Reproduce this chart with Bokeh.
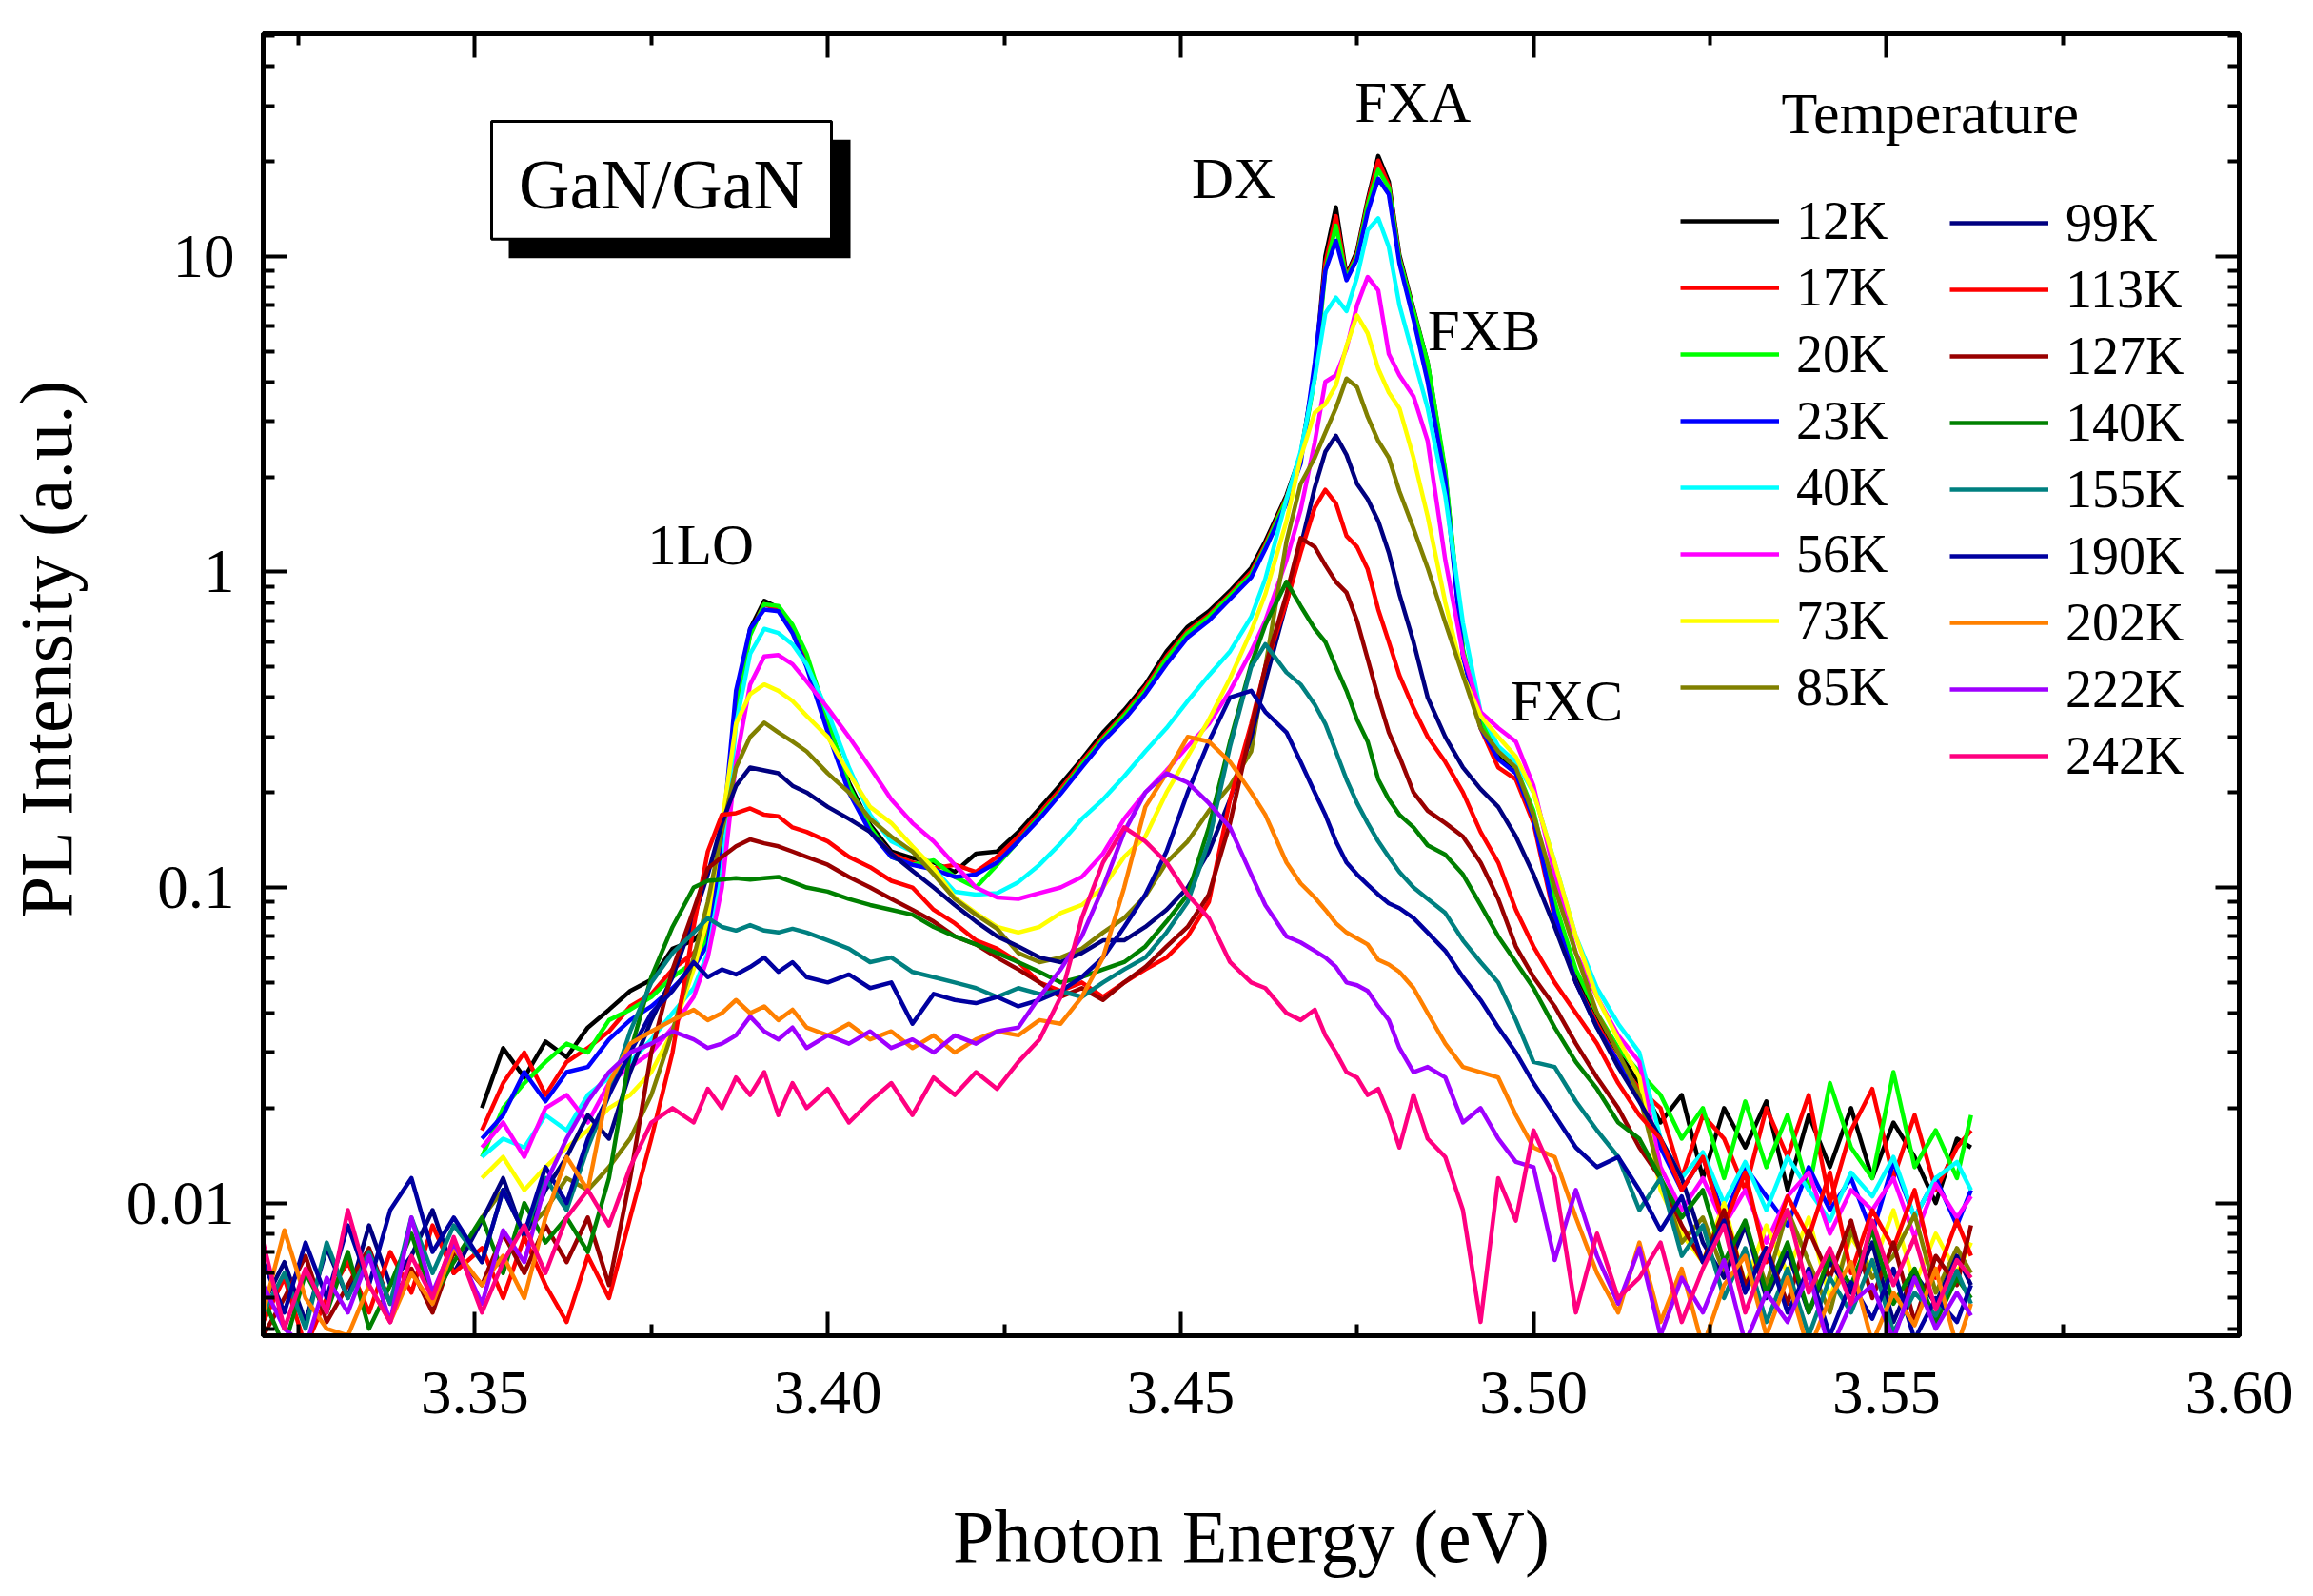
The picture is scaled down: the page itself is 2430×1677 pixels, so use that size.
import numpy as np
from bokeh.plotting import figure
from bokeh.models import (ColumnDataSource, FixedTicker, LinearAxis, LogAxis, Legend,
                          LegendItem, Label, BoxAnnotation, PrintfTickFormatter)
from bokeh.embed import file_html
from bokeh.resources import INLINE

N = None

# ---------------- data ----------------
energy = [
    3.320, 3.323, 3.326, 3.329, 3.332, 3.335, 3.338, 3.341, 3.344, 3.347,
    3.351, 3.354, 3.357, 3.360, 3.363, 3.366, 3.369, 3.372, 3.375, 3.378,
    3.381, 3.383, 3.385, 3.387, 3.389, 3.391, 3.393, 3.395, 3.397, 3.400,
    3.403, 3.406, 3.409, 3.412, 3.415, 3.418, 3.421, 3.424, 3.427, 3.430,
    3.433, 3.436, 3.439, 3.442, 3.445, 3.448, 3.451, 3.454, 3.457, 3.460,
    3.462, 3.465, 3.467, 3.469, 3.4705, 3.472, 3.4735, 3.475, 3.4765, 3.478,
    3.4795, 3.481, 3.483, 3.485, 3.4875, 3.490, 3.4925, 3.495, 3.4975, 3.500,
    3.503, 3.506, 3.509, 3.512, 3.515, 3.518, 3.521, 3.524, 3.527, 3.530,
    3.533, 3.536, 3.539, 3.542, 3.545, 3.548, 3.551, 3.554, 3.557, 3.560, 3.562,
]

t12 = [N, N, N, N, N, N, N, N, N, N,
       0.020, 0.031, 0.025, 0.0325, 0.029, 0.036, 0.041, 0.047, 0.051, 0.064,
       0.068, 0.076, 0.125, 0.39, 0.66, 0.81, 0.77, 0.65, 0.53, 0.33,
       0.215, 0.158, 0.13, 0.124, 0.12, 0.112, 0.128, 0.13, 0.15, 0.178,
       0.212, 0.255, 0.31, 0.365, 0.44, 0.56, 0.67, 0.75, 0.87, 1.03,
       1.25, 1.75, 2.35, 4.3, 10.0, 14.3, 8.7, 10.4, 15.1, 20.8,
       17.2, 10.1, 6.8, 4.6, 2.05, 0.56, 0.33, 0.26, 0.235, 0.17,
       0.085, 0.052, 0.038, 0.03, 0.024, 0.018, 0.022, 0.012, 0.02, 0.015,
       0.021, 0.011, 0.019, 0.013, 0.02, 0.012, 0.018, 0.014, 0.01, 0.016, 0.015]

t17 = [N, N, N, N, N, N, N, N, N, N,
       0.017, 0.024, 0.030, 0.022, 0.028, 0.031, 0.035, 0.042, 0.046, 0.055,
       0.062, 0.072, 0.12, 0.37, 0.64, 0.79, 0.76, 0.65, 0.52, 0.32,
       0.205, 0.152, 0.128, 0.12, 0.115, 0.118, 0.112, 0.125, 0.145, 0.172,
       0.205, 0.25, 0.3, 0.355, 0.43, 0.54, 0.65, 0.73, 0.85, 1.0,
       1.22, 1.72, 2.3, 4.2, 9.5, 13.4, 8.6, 10.2, 14.8, 20.1,
       16.8, 9.9, 6.7, 4.5, 2.0, 0.55, 0.32, 0.24, 0.22, 0.16,
       0.08, 0.05, 0.037, 0.028, 0.023, 0.02, 0.012, 0.019, 0.016, 0.011,
       0.02, 0.014, 0.022, 0.01, 0.017, 0.023, 0.012, 0.019, 0.011, 0.015, 0.017]

t20 = [N, N, N, N, N, N, N, N, N, N,
       0.014, 0.020, 0.024, 0.028, 0.032, 0.030, 0.038, 0.041, 0.045, 0.052,
       0.058, 0.07, 0.115, 0.36, 0.63, 0.79, 0.78, 0.68, 0.55, 0.34,
       0.21, 0.155, 0.125, 0.118, 0.122, 0.108, 0.1, 0.118, 0.14, 0.168,
       0.2, 0.245, 0.295, 0.35, 0.42, 0.53, 0.64, 0.72, 0.84, 0.98,
       1.2, 1.7, 2.3, 4.1, 9.0, 12.5, 8.5, 10.0, 14.5, 18.8,
       16.5, 9.8, 6.7, 4.6, 2.1, 0.57, 0.34, 0.27, 0.24, 0.175,
       0.09, 0.055, 0.04, 0.031, 0.026, 0.022, 0.016, 0.02, 0.012, 0.021,
       0.013, 0.019, 0.011, 0.024, 0.015, 0.012, 0.026, 0.013, 0.017, 0.012, 0.019]

t23 = [N, N, N, N, N, N, N, N, N, N,
       0.016, 0.019, 0.026, 0.021, 0.026, 0.027, 0.033, 0.038, 0.042, 0.048,
       0.056, 0.066, 0.14, 0.42, 0.66, 0.76, 0.75, 0.64, 0.5, 0.31,
       0.2, 0.15, 0.125, 0.118, 0.114, 0.108, 0.11, 0.12, 0.14, 0.165,
       0.198, 0.24, 0.29, 0.34, 0.41, 0.51, 0.62, 0.7, 0.82, 0.96,
       1.18, 1.65, 2.2, 4.6, 9.0, 11.2, 8.4, 9.8, 13.8, 17.6,
       15.7, 9.5, 6.3, 4.0, 1.95, 0.54, 0.32, 0.255, 0.23, 0.165,
       0.082, 0.05, 0.036, 0.028, 0.022, 0.015, 0.011, 0.014, 0.009, 0.013,
       0.0105, 0.0085, 0.013, 0.0095, 0.012, 0.008, 0.0135, 0.009, 0.012, 0.0085, 0.011]

t40 = [N, N, N, N, N, N, N, N, N, N,
       0.014, 0.016, 0.015, 0.019, 0.017, 0.022, 0.025, 0.028, 0.033, 0.040,
       0.048, 0.062, 0.11, 0.33, 0.55, 0.66, 0.64, 0.59, 0.51, 0.36,
       0.24, 0.17, 0.14, 0.13, 0.115, 0.097, 0.095, 0.096, 0.104, 0.118,
       0.138, 0.165, 0.19, 0.225, 0.27, 0.32, 0.39, 0.47, 0.56, 0.72,
       0.95, 1.7, 2.4, 4.1, 6.6, 7.4, 6.7, 8.6, 12.1, 13.2,
       10.7, 7.0, 4.8, 3.3, 1.74, 0.69, 0.36, 0.28, 0.25, 0.2,
       0.12, 0.07, 0.048, 0.037, 0.03, 0.016, 0.012, 0.0145, 0.01, 0.0135,
       0.0095, 0.014, 0.011, 0.0088, 0.0125, 0.0105, 0.014, 0.009, 0.012, 0.0135, 0.011]

t56 = [N, N, N, N, N, N, N, N, N, N,
       0.015, 0.018, 0.014, 0.020, 0.022, 0.018, 0.024, 0.027, 0.030, 0.036,
       0.045, 0.06, 0.1, 0.25, 0.44, 0.54, 0.545, 0.51, 0.45, 0.37,
       0.3, 0.24, 0.19, 0.16, 0.14, 0.118, 0.1, 0.093, 0.092, 0.096,
       0.1, 0.108, 0.128, 0.165, 0.2, 0.235, 0.28, 0.33, 0.42, 0.56,
       0.7, 1.09, 1.57, 2.57, 4.0, 4.2, 5.1, 7.0, 8.6, 7.8,
       4.9, 4.2, 3.6, 2.6, 1.09, 0.55, 0.36, 0.32, 0.29, 0.21,
       0.11, 0.062, 0.045, 0.034, 0.028, 0.013, 0.0095, 0.012, 0.0085, 0.011,
       0.0075, 0.0105, 0.0125, 0.008, 0.011, 0.0095, 0.012, 0.0078, 0.0115, 0.009, 0.0105]

t73 = [N, N, N, N, N, N, N, N, N, N,
       0.012, 0.014, 0.011, 0.013, 0.015, 0.017, 0.020, 0.022, 0.026, 0.035,
       0.055, 0.08, 0.16, 0.33, 0.41, 0.44, 0.42, 0.39, 0.35, 0.3,
       0.23, 0.18, 0.16, 0.135, 0.115, 0.093, 0.083, 0.075, 0.072, 0.075,
       0.083, 0.088, 0.1, 0.125, 0.145, 0.2, 0.26, 0.34, 0.46, 0.65,
       0.85, 1.45, 2.3, 3.2, 3.4, 3.9, 5.2, 6.5, 5.7, 4.4,
       3.7, 3.3, 2.3, 1.5, 0.8, 0.47, 0.35, 0.3, 0.26, 0.2,
       0.12, 0.07, 0.045, 0.033, 0.025, 0.011, 0.008, 0.0065, 0.01, 0.0055,
       0.0085, 0.006, 0.009, 0.005, 0.0078, 0.0062, 0.0095, 0.0055, 0.008, 0.006, 0.0075]

t85 = [N, N, N, N, N, N, N, N, N, N,
       0.009, 0.011, 0.008, 0.0095, 0.012, 0.011, 0.013, 0.016, 0.022, 0.035,
       0.06, 0.09, 0.15, 0.24, 0.3, 0.333, 0.31, 0.29, 0.27, 0.23,
       0.2, 0.165, 0.145, 0.13, 0.11, 0.092, 0.082, 0.074, 0.062, 0.058,
       0.06, 0.064, 0.072, 0.08, 0.094, 0.12, 0.14, 0.175, 0.21, 0.27,
       0.5, 1.25, 1.9, 2.3, 2.76, 3.3, 4.1, 3.85, 3.1, 2.6,
       2.3, 1.8, 1.37, 1.03, 0.69, 0.47, 0.32, 0.27, 0.24, 0.17,
       0.1, 0.062, 0.04, 0.03, 0.022, 0.012, 0.0075, 0.009, 0.006, 0.0085,
       0.0055, 0.0095, 0.0065, 0.0045, 0.0082, 0.0058, 0.0068, 0.0092, 0.0052, 0.0072, 0.006]

t99 = [0.0048, 0.0065, 0.0042, 0.0072, 0.005, 0.0085, 0.0055, 0.0068, 0.0095, 0.006,
       0.0088, 0.012, 0.0078, 0.011, 0.014, 0.019, 0.016, 0.026, 0.038, 0.052,
       0.08, 0.11, 0.16, 0.21, 0.24, 0.235, 0.23, 0.21, 0.2, 0.18,
       0.165, 0.15, 0.128, 0.113, 0.1, 0.088, 0.078, 0.07, 0.065, 0.06,
       0.058, 0.062, 0.068, 0.068, 0.075, 0.085, 0.1, 0.13, 0.19, 0.3,
       0.45, 0.8, 1.2, 1.85, 2.4, 2.7, 2.35, 1.9, 1.7, 1.45,
       1.15, 0.85, 0.6, 0.4, 0.3, 0.24, 0.205, 0.18, 0.145, 0.11,
       0.075, 0.05, 0.036, 0.027, 0.021, 0.016, 0.012, 0.0075, 0.0058, 0.0085,
       0.005, 0.007, 0.0045, 0.0065, 0.0052, 0.0075, 0.0042, 0.006, 0.0048, 0.0068, 0.0055]

t113 = [0.0042, 0.0058, 0.0035, 0.005, 0.0065, 0.0045, 0.007, 0.0052, 0.0085, 0.006,
        0.0072, 0.005, 0.0078, 0.0055, 0.0042, 0.0068, 0.005, 0.009, 0.016, 0.03,
        0.075, 0.13, 0.17, 0.172, 0.178, 0.17, 0.168, 0.155, 0.15, 0.14,
        0.125, 0.116, 0.105, 0.1, 0.085, 0.077, 0.068, 0.064, 0.058, 0.05,
        0.047, 0.05, 0.045, 0.05, 0.055, 0.06, 0.07, 0.09, 0.19, 0.33,
        0.5, 0.8, 1.15, 1.6, 1.82, 1.65, 1.3, 1.2, 1.02, 0.76,
        0.6, 0.47, 0.37, 0.3, 0.25, 0.2, 0.15, 0.12, 0.085, 0.065,
        0.05, 0.04, 0.032, 0.024, 0.019, 0.016, 0.011, 0.014, 0.0085, 0.0125,
        0.0065, 0.0105, 0.0078, 0.0125, 0.006, 0.0095, 0.0072, 0.011, 0.0058, 0.0088, 0.0068]

t127 = [0.0038, 0.005, 0.0068, 0.0042, 0.0055, 0.0072, 0.0048, 0.0062, 0.0045, 0.007,
        0.0055, 0.008, 0.006, 0.0085, 0.0065, 0.009, 0.0055, 0.012, 0.03, 0.055,
        0.085, 0.115, 0.125, 0.135, 0.142, 0.138, 0.135, 0.13, 0.125, 0.118,
        0.108, 0.1, 0.092, 0.085, 0.078, 0.07, 0.066, 0.06, 0.055, 0.05,
        0.045, 0.048, 0.044, 0.05, 0.056, 0.065, 0.075, 0.095, 0.16, 0.32,
        0.5, 0.85, 1.28, 1.2, 1.05, 0.93, 0.86, 0.7, 0.53, 0.4,
        0.31, 0.26, 0.2, 0.175, 0.16, 0.145, 0.12, 0.092, 0.065, 0.052,
        0.042, 0.032, 0.025, 0.02, 0.015, 0.012, 0.0085, 0.0065, 0.0095, 0.0055,
        0.0072, 0.0048, 0.0082, 0.0058, 0.0088, 0.005, 0.0075, 0.0042, 0.0068, 0.0055, 0.0085]

t140 = [0.005, 0.0035, 0.006, 0.0045, 0.007, 0.004, 0.0055, 0.008, 0.005, 0.0065,
        0.009, 0.006, 0.01, 0.0075, 0.009, 0.007, 0.012, 0.03, 0.052, 0.075,
        0.1, 0.105, 0.106, 0.107, 0.106, 0.107, 0.108, 0.104, 0.1, 0.097,
        0.092, 0.088, 0.085, 0.082, 0.075, 0.07, 0.066, 0.062, 0.058, 0.054,
        0.05, 0.052, 0.055, 0.058, 0.065, 0.078, 0.095, 0.155, 0.29, 0.51,
        0.68, 0.93, 0.78, 0.66, 0.6, 0.5, 0.42, 0.34, 0.29, 0.22,
        0.19, 0.17, 0.155, 0.136, 0.127, 0.11, 0.088, 0.07, 0.058, 0.048,
        0.036, 0.028, 0.023, 0.018, 0.016, 0.012, 0.009, 0.011, 0.0065, 0.0088,
        0.0052, 0.0075, 0.0045, 0.0068, 0.0055, 0.0082, 0.0048, 0.0062, 0.0042, 0.0058, 0.005]

t155 = [0.0045, 0.006, 0.004, 0.0075, 0.005, 0.007, 0.0048, 0.009, 0.006, 0.0085,
        0.0065, 0.011, 0.008, 0.012, 0.0095, 0.015, 0.022, 0.035, 0.05, 0.062,
        0.072, 0.08, 0.075, 0.073, 0.076, 0.073, 0.072, 0.074, 0.072, 0.068,
        0.064, 0.058, 0.06, 0.054, 0.052, 0.05, 0.048, 0.045, 0.048, 0.046,
        0.047, 0.045, 0.05, 0.055, 0.06, 0.072, 0.09, 0.14, 0.28, 0.5,
        0.59, 0.48, 0.44, 0.38, 0.33, 0.27, 0.22, 0.185, 0.16, 0.14,
        0.125, 0.112, 0.1, 0.092, 0.083, 0.068, 0.058, 0.05, 0.038, 0.028,
        0.027, 0.021, 0.017, 0.014, 0.0095, 0.012, 0.0068, 0.0085, 0.005, 0.0072,
        0.0042, 0.0062, 0.0038, 0.0058, 0.0045, 0.0066, 0.0039, 0.0052, 0.0044, 0.0061, 0.0048]

t190 = [0.0065, 0.0045, 0.0075, 0.005, 0.0085, 0.0055, 0.0095, 0.012, 0.007, 0.009,
        0.0065, 0.011, 0.008, 0.013, 0.01, 0.016, 0.022, 0.03, 0.04, 0.047,
        0.058, 0.052, 0.055, 0.053, 0.056, 0.06, 0.054, 0.058, 0.052, 0.05,
        0.053, 0.048, 0.05, 0.037, 0.046, 0.044, 0.043, 0.045, 0.042, 0.044,
        0.047, 0.052, 0.06, 0.075, 0.095, 0.13, 0.2, 0.29, 0.4, 0.42,
        0.36, 0.31, 0.25, 0.2, 0.17, 0.14, 0.12, 0.11, 0.102, 0.095,
        0.089, 0.086, 0.08, 0.072, 0.063, 0.052, 0.044, 0.036, 0.03, 0.024,
        0.019, 0.015, 0.013, 0.014, 0.011, 0.0082, 0.0105, 0.0065, 0.0088, 0.0052,
        0.0072, 0.0045, 0.0062, 0.0038, 0.0056, 0.0043, 0.0062, 0.0037, 0.005, 0.0042, 0.0055]

t202 = [0.0045, 0.0082, 0.005, 0.004, 0.0038, 0.0055, 0.0042, 0.006, 0.0048, 0.0072,
        0.0055, 0.0068, 0.005, 0.009, 0.014, 0.011, 0.024, 0.032, 0.035, 0.038,
        0.041, 0.038, 0.04, 0.044, 0.04, 0.042, 0.038, 0.041, 0.036, 0.034,
        0.037, 0.033, 0.035, 0.031, 0.034, 0.03, 0.033, 0.035, 0.034, 0.038,
        0.037, 0.045, 0.06, 0.1, 0.18, 0.23, 0.3, 0.29, 0.25, 0.2,
        0.17, 0.12, 0.103, 0.093, 0.085, 0.077, 0.072, 0.069, 0.066, 0.059,
        0.057, 0.054, 0.048, 0.04, 0.032, 0.027, 0.026, 0.025, 0.019, 0.015,
        0.014, 0.009, 0.006, 0.0045, 0.0075, 0.0042, 0.0062, 0.0035, 0.0055, 0.0068,
        0.0038, 0.0058, 0.0034, 0.005, 0.0065, 0.0036, 0.0052, 0.0041, 0.0062, 0.0035, 0.0048]

t222 = [0.0055, 0.004, 0.0035, 0.0058, 0.0045, 0.0068, 0.0042, 0.009, 0.0052, 0.0075,
        0.0048, 0.0082, 0.0065, 0.0115, 0.016, 0.021, 0.026, 0.03, 0.032, 0.035,
        0.033, 0.031, 0.032, 0.034, 0.039, 0.035, 0.033, 0.036, 0.031, 0.034,
        0.032, 0.035, 0.031, 0.033, 0.03, 0.034, 0.032, 0.035, 0.036, 0.045,
        0.055, 0.07, 0.1, 0.15, 0.2, 0.23, 0.215, 0.185, 0.155, 0.11,
        0.088, 0.07, 0.067, 0.063, 0.06, 0.056, 0.05, 0.049, 0.047, 0.042,
        0.038, 0.031, 0.026, 0.027, 0.025, 0.018, 0.02, 0.016, 0.0135, 0.013,
        0.0066, 0.011, 0.0068, 0.0048, 0.0072, 0.0038, 0.0058, 0.0045, 0.0066, 0.0036,
        0.0052, 0.0042, 0.006, 0.0034, 0.0048, 0.0055, 0.0037, 0.0058, 0.004, 0.0052, 0.0044]

t242 = [0.0075, 0.004, 0.0062, 0.0045, 0.0095, 0.0055, 0.0042, 0.0068, 0.005, 0.0078,
        0.0045, 0.0065, 0.0085, 0.006, 0.009, 0.011, 0.0085, 0.013, 0.018, 0.02,
        0.018, 0.023, 0.02, 0.025, 0.022, 0.026, 0.019, 0.024, 0.02, 0.023,
        0.018, 0.021, 0.024, 0.019, 0.025, 0.022, 0.026, 0.023, 0.028, 0.033,
        0.045, 0.08, 0.12, 0.155, 0.14, 0.12, 0.095, 0.08, 0.058, 0.05,
        0.048, 0.04, 0.038, 0.041, 0.034, 0.03, 0.026, 0.025, 0.022, 0.023,
        0.019, 0.015, 0.022, 0.016, 0.014, 0.0095, 0.0042, 0.012, 0.0088, 0.017,
        0.012, 0.0045, 0.008, 0.005, 0.0058, 0.0075, 0.0042, 0.0062, 0.0085, 0.0045,
        0.0068, 0.0095, 0.0052, 0.0072, 0.0048, 0.0088, 0.0055, 0.0078, 0.0046, 0.0066, 0.0058]

temperatures = ["12K", "17K", "20K", "23K", "40K", "56K", "73K", "85K",
                "99K", "113K", "127K", "140K", "155K", "190K", "202K", "222K", "242K"]
series = [t12, t17, t20, t23, t40, t56, t73, t85,
          t99, t113, t127, t140, t155, t190, t202, t222, t242]
colors = ["#000000", "#FF0000", "#00FF00", "#0000FF", "#00FFFF", "#FF00FF", "#FFFF00", "#808000",
          "#000080", "#FF0000", "#990000", "#008000", "#008080", "#0000A0", "#FF8000", "#9F00FF",
          "#FF0080"]

x_major = [3.35, 3.40, 3.45, 3.50, 3.55, 3.60]
x_minor = [3.325, 3.375, 3.425, 3.475, 3.525, 3.575]
y_major = [0.01, 0.1, 1, 10]
y_major_labels = ["0.01", "0.1", "1", "10"]

annot_text = ["FXA", "DX", "FXB", "FXC", "1LO"]
annot_x = [3.4829, 3.4575, 3.4930, 3.5047, 3.3820]
annot_y = [30.7, 17.7, 5.83, 0.391, 1.22]

x_title = "Photon Energy (eV)"
y_title = "PL Intensity (a.u.)"

# ---------------- build ----------------
FONT = "Liberation Serif"

data = {"energy": np.array(energy, dtype=float)}
for name, vals in zip(temperatures, series):
    data[name] = np.array([np.nan if v is None else v for v in vals], dtype=float)
src = ColumnDataSource(data)

p = figure(width=2414, height=1670, x_range=(3.32, 3.60), y_range=(0.0038, 50.7),
           y_axis_type="log", output_backend="svg", toolbar_location=None,
           min_border_left=276, min_border_right=62, min_border_top=35, min_border_bottom=267)
p.background_fill_color = "white"
p.border_fill_color = "white"
p.xgrid.visible = False
p.ygrid.visible = False
p.outline_line_color = "black"
p.outline_line_width = 5

bottom_ax = p.below[0]
left_ax = p.left[0]

renderers = {}
for name, col in zip(temperatures, colors):
    renderers[name] = p.line("energy", name, source=src, line_color=col, line_width=4.5,
                             line_join="round")

y_minor = [k * 10.0 ** e for e in range(-3, 2) for k in range(2, 10)]
xt = FixedTicker(ticks=x_major, minor_ticks=x_minor)
yt = FixedTicker(ticks=y_major, minor_ticks=y_minor)

top_ax = LinearAxis(ticker=xt)
right_ax = LogAxis(ticker=yt)
p.add_layout(top_ax, "above")
p.add_layout(right_ax, "right")

bottom_ax.ticker = xt
left_ax.ticker = yt

for ax in [bottom_ax, left_ax, top_ax, right_ax]:
    ax.axis_line_width = 5
    ax.axis_line_color = "black"
    ax.major_tick_in = 25
    ax.major_tick_out = 0
    ax.minor_tick_in = 12
    ax.minor_tick_out = 0
    ax.major_tick_line_width = 4
    ax.minor_tick_line_width = 4
    ax.major_tick_line_color = "black"
    ax.minor_tick_line_color = "black"
    ax.major_label_text_font = FONT
    ax.major_label_text_font_size = "65px"
    ax.major_label_text_color = "black"

for ax in [top_ax, right_ax]:
    ax.major_label_text_font_size = "2px"
    ax.major_label_text_alpha = 0.0
    ax.major_label_standoff = 0

bottom_ax.formatter = PrintfTickFormatter(format="%.2f")
bottom_ax.major_label_standoff = 38
bottom_ax.axis_label = x_title
bottom_ax.axis_label_text_font = FONT
bottom_ax.axis_label_text_font_size = "78px"
bottom_ax.axis_label_text_font_style = "normal"
bottom_ax.axis_label_text_color = "black"
bottom_ax.axis_label_standoff = 83

left_ax.major_label_overrides = {v: s for v, s in zip(y_major, y_major_labels)}
left_ax.major_label_standoff = 30
# leading no-break spaces move the rotated title slightly up, as in the original
left_ax.axis_label = "\u00a0\u00a0\u00a0\u00a0" + y_title
left_ax.axis_label_text_font = FONT
left_ax.axis_label_text_font_size = "78px"
left_ax.axis_label_text_font_style = "normal"
left_ax.axis_label_text_color = "black"
left_ax.axis_label_standoff = 38

# sample box with shadow
p.add_layout(BoxAnnotation(left=3.3548, right=3.40322, bottom=9.86, top=23.4,
                           fill_color="black", fill_alpha=1.0, line_color=None))
p.add_layout(BoxAnnotation(left=3.35237, right=3.40052, bottom=11.33, top=26.75,
                           fill_color="white", fill_alpha=1.0, line_color="black",
                           line_alpha=1.0, line_width=3))
p.add_layout(Label(x=3.37645, y=16.9, text="GaN/GaN", text_font=FONT,
                   text_font_size="74px", text_align="center", text_baseline="alphabetic",
                   text_color="black"))

for t, x, y in zip(annot_text, annot_x, annot_y):
    p.add_layout(Label(x=x, y=y, text=t, text_font=FONT, text_font_size="61px",
                       text_align="center", text_baseline="alphabetic", text_color="black"))

p.add_layout(Label(x=3.5562, y=28.4, text="Temperature", text_font=FONT,
                   text_font_size="62px", text_align="center", text_baseline="alphabetic",
                   text_color="black"))

def make_legend(names, loc):
    leg = Legend(items=[LegendItem(label=n, renderers=[renderers[n]]) for n in names],
                 location=loc, orientation="vertical")
    leg.label_text_font = FONT
    leg.label_text_font_size = "56px"
    leg.label_text_color = "black"
    leg.glyph_width = 104
    leg.glyph_height = 70
    leg.label_height = 70
    leg.label_standoff = 18
    leg.spacing = 0
    leg.padding = 0
    leg.margin = 0
    leg.border_line_color = None
    leg.background_fill_alpha = 0
    return leg

p.add_layout(make_legend(temperatures[:8], (1489, 646)))
p.add_layout(make_legend(temperatures[8:], (1772, 574)))

open("out.html", "w").write(file_html(p, INLINE))
